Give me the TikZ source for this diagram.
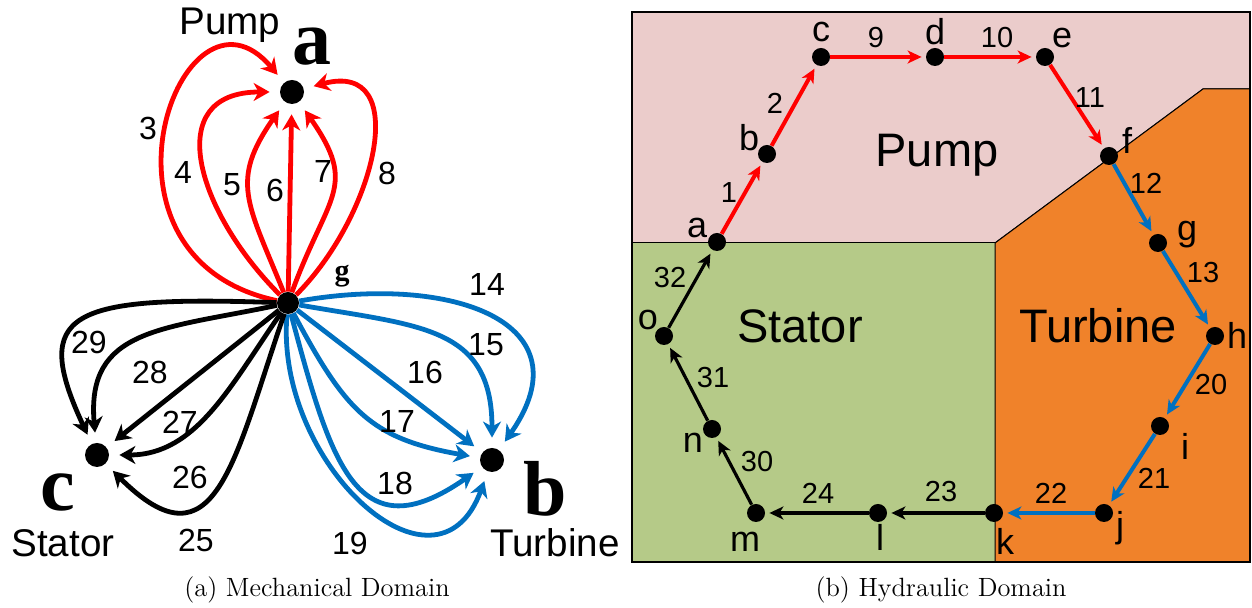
\documentclass[tikz,border=0pt]{standalone}
\usepackage{fontspec}
\usepackage{xcolor}
\newfontfamily\labelfont{Liberation Sans}
\newfontfamily\letterfont{Liberation Serif}
\definecolor{edgeRed}{HTML}{FF0000}
\definecolor{edgeBlue}{HTML}{0070C0}
\definecolor{pumpArea}{HTML}{EBCCCB}
\definecolor{statorArea}{HTML}{B5CA88}
\definecolor{turbineArea}{HTML}{F0822A}
\usetikzlibrary{arrows.meta}

\tikzset{
  bigdot/.style={circle, fill=black, inner sep=0pt, minimum size=12pt},
  smalldot/.style={circle, fill=black, inner sep=0pt, minimum size=9pt},
  mechedge/.style={line width=2.4pt, -{Stealth[length=8pt,width=9pt,inset=2.5pt]}, shorten >=5pt},
  hydedge/.style={line width=2pt, -{Stealth[length=7pt,width=6.5pt,inset=2pt]}, shorten >=2pt},
  mechnum/.style={font=\labelfont\fontsize{16}{16}\selectfont, inner sep=0pt},
  hydnum/.style={font=\labelfont\fontsize{14.5}{14.5}\selectfont, inner sep=0pt},
  hydletter/.style={font=\labelfont\fontsize{18}{18}\selectfont, inner sep=0pt},
  bigletter/.style={font=\letterfont\bfseries\fontsize{39}{39}\selectfont, inner sep=0pt},
  domname/.style={font=\labelfont\fontsize{19.3}{19.3}\selectfont, inner sep=0pt},
  areaname/.style={font=\labelfont\fontsize{23.5}{23.5}\selectfont, inner sep=0pt},
  area/.style={draw=black, line width=0.5pt},
  subcap/.style={font=\fontsize{13.2}{15}\selectfont, inner sep=0pt},
}

\begin{document}
\begin{tikzpicture}[x=0.5pt, y=0.5pt]
  \useasboundingbox (0,0) rectangle (1252,608);
  % hydraulic domain areas
  \filldraw[area, fill=pumpArea] (632,596) -- (1250,596) -- (1250,519) -- (1203,519) -- (995,365) -- (632,365) -- cycle;
  \filldraw[area, fill=statorArea] (632,365) rectangle (995,46);
  \filldraw[area, fill=turbineArea] (995,46) -- (1250,46) -- (1250,519) -- (1203,519) -- (995,365) -- cycle;
  \draw[line width=0.8pt] (632,46) rectangle (1250,596);
  \node[areaname] (pumpName) at (937,453) {Pump};
  \node[areaname] (statorName) at (800,282) {Stator};
  \node[areaname] (turbineName) at (1098,282) {Turbine};

  % mechanical domain
  \node[bigdot] (mA) at (292,516) {};
  \node[bigdot, minimum size=11pt] (mG) at (288,305) {};
  \node[bigdot] (mB) at (492,148) {};
  \node[bigdot] (mC) at (97,153) {};
  \node[bigletter] (mAtxt) at (312,561) {a};
  \node[bigletter, anchor=base] (mBtxt) at (545,92) {b};
  \node[bigletter] (mCtxt) at (58,116) {c};
  \node[font=\letterfont\bfseries\fontsize{15}{15}\selectfont, inner sep=0pt, anchor=base] (mGtxt) at (342,327) {g};
  \node[domname, anchor=base] (mPump) at (230,573) {Pump};
  \node[domname, anchor=base] (mStator) at (63,51) {Stator};
  \node[domname, anchor=base] (mTurbine) at (555,51) {Turbine};

  \draw[mechedge, edgeRed] (mG) .. controls +(168:220) and +(130:170) .. (mA);
  \draw[mechedge, edgeRed] (mG) to[out=135, in=180, looseness=1.5] (mA);
  \draw[mechedge, edgeRed] (mG) to[out=112, in=235, looseness=1.3] (mA);
  \draw[mechedge, edgeRed] (mG) -- (mA);
  \draw[mechedge, edgeRed] (mG) to[out=70, in=305, looseness=1.4] (mA);
  \draw[mechedge, edgeRed] (mG) to[out=45, in=15, looseness=1.4] (mA);

  \draw[mechedge, edgeBlue] (mG) to[out=10, in=55, looseness=1.6] (mB);
  \draw[mechedge, edgeBlue] (mG) to[out=-10, in=90, looseness=1.3] (mB);
  \draw[mechedge, edgeBlue] (mG) -- (mB);
  \draw[mechedge, edgeBlue] (mG) to[out=-62, in=170, looseness=1.2] (mB);
  \draw[mechedge, edgeBlue] (mG) to[out=-75, in=215, looseness=1.6] (mB);
  \draw[mechedge, edgeBlue] (mG) to[out=-95, in=250, looseness=1.5] (mB);

  \draw[mechedge] (mG) to[out=178, in=115, out looseness=2.3, in looseness=1.6] (mC);
  \draw[mechedge] (mG) to[out=192, in=95, looseness=1.3] (mC);
  \draw[mechedge] (mG) -- (mC);
  \draw[mechedge] (mG) to[out=235, in=0, looseness=1] (mC);
  \draw[mechedge] (mG) to[out=251, in=315, looseness=1.7] (mC);

  \node[mechnum] (e3) at (148,480) {3};
  \node[mechnum] (e4) at (183,435) {4};
  \node[mechnum] (e5) at (232,423) {5};
  \node[mechnum] (e6) at (275,418) {6};
  \node[mechnum] (e7) at (323,436) {7};
  \node[mechnum] (e8) at (387,435) {8};
  \node[mechnum] (e14) at (487,323) {14};
  \node[mechnum] (e15) at (486,263) {15};
  \node[mechnum] (e16) at (425,236) {16};
  \node[mechnum] (e17) at (397,186) {17};
  \node[mechnum] (e18) at (395,125) {18};
  \node[mechnum] (e19) at (350,65) {19};
  \node[mechnum] (e25) at (196,68) {25};
  \node[mechnum] (e26) at (190,131) {26};
  \node[mechnum] (e27) at (180,186) {27};
  \node[mechnum] (e28) at (150,236) {28};
  \node[mechnum] (e29) at (89,266) {29};

  % hydraulic domain
  \node[smalldot] (hA) at (717,366) {};
  \node[smalldot] (hB) at (767,454) {};
  \node[smalldot] (hC) at (821,551) {};
  \node[smalldot] (hD) at (935,551) {};
  \node[smalldot] (hE) at (1045,551) {};
  \node[smalldot] (hF) at (1109,452) {};
  \node[smalldot] (hG) at (1158,365) {};
  \node[smalldot] (hH) at (1215,272) {};
  \node[smalldot] (hI) at (1160,182) {};
  \node[smalldot] (hJ) at (1104,95) {};
  \node[smalldot] (hK) at (994,95) {};
  \node[smalldot] (hL) at (878,95) {};
  \node[smalldot] (hM) at (756,95) {};
  \node[smalldot] (hN) at (712,179) {};
  \node[smalldot] (hO) at (664,272) {};

  \node[hydletter] (hAtxt) at (697,380) {a};
  \node[hydletter] (hBtxt) at (749,470) {b};
  \node[hydletter] (hCtxt) at (821,576) {c};
  \node[hydletter] (hDtxt) at (935,576) {d};
  \node[hydletter] (hEtxt) at (1062,570) {e};
  \node[hydletter] (hFtxt) at (1127,468) {f};
  \node[hydletter] (hGtxt) at (1187,373) {g};
  \node[hydletter] (hHtxt) at (1237,273) {h};
  \node[hydletter] (hItxt) at (1185,162) {i};
  \node[hydletter] (hJtxt) at (1120,80) {j};
  \node[hydletter] (hKtxt) at (1005,67) {k};
  \node[hydletter] (hLtxt) at (880,71) {l};
  \node[hydletter] (hMtxt) at (745,66) {m};
  \node[hydletter] (hNtxt) at (693,165) {n};
  \node[hydletter] (hOtxt) at (648,288) {o};

  \draw[hydedge, edgeRed] (hA) -- (hB);
  \draw[hydedge, edgeRed] (hB) -- (hC);
  \draw[hydedge, edgeRed] (hC) -- (hD);
  \draw[hydedge, edgeRed] (hD) -- (hE);
  \draw[hydedge, edgeRed] (hE) -- (hF);
  \draw[hydedge, edgeBlue] (hF) -- (hG);
  \draw[hydedge, edgeBlue] (hG) -- (hH);
  \draw[hydedge, edgeBlue] (hH) -- (hI);
  \draw[hydedge, edgeBlue] (hI) -- (hJ);
  \draw[hydedge, edgeBlue] (hJ) -- (hK);
  \draw[hydedge, line width=1.6pt] (hK) -- (hL);
  \draw[hydedge, line width=1.6pt] (hL) -- (hM);
  \draw[hydedge, line width=1.6pt] (hM) -- (hN);
  \draw[hydedge, line width=1.6pt] (hN) -- (hO);
  \draw[hydedge, line width=1.6pt] (hO) -- (hA);

  \node[hydnum] (e1) at (729,415) {1};
  \node[hydnum] (e2) at (775,505) {2};
  \node[hydnum] (e9) at (876,570) {9};
  \node[hydnum] (e10) at (997,570) {10};
  \node[hydnum] (e11) at (1090,510) {11};
  \node[hydnum] (e12) at (1146,425) {12};
  \node[hydnum] (e13) at (1203,335) {13};
  \node[hydnum] (e20) at (1211,223) {20};
  \node[hydnum] (e21) at (1154,130) {21};
  \node[hydnum] (e22) at (1051,115) {22};
  \node[hydnum] (e23) at (941,116) {23};
  \node[hydnum] (e24) at (818,115) {24};
  \node[hydnum] (e30) at (757,146) {30};
  \node[hydnum] (e31) at (713,230) {31};
  \node[hydnum] (e32) at (670,330) {32};

  \node[subcap, anchor=base] (capA) at (317,11) {(a) Mechanical Domain};
  \node[subcap, anchor=base] (capB) at (941,11) {(b) Hydraulic Domain};
\end{tikzpicture}
\end{document}
